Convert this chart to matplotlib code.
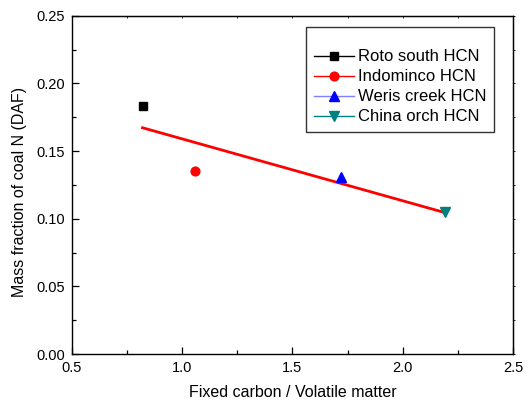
import numpy as np
import matplotlib
matplotlib.use("Agg")
import matplotlib.pyplot as plt
from matplotlib.ticker import MultipleLocator, FormatStrFormatter

plt.rcParams['font.family'] = ['Liberation Sans', 'DejaVu Sans']

# Coal samples: fixed carbon / volatile matter ratio vs. coal-N mass fraction
labels = ["Roto south HCN", "Indominco HCN", "Weris creek HCN", "China orch HCN"]
fc_vm = [0.82, 1.06, 1.72, 2.19]
n_frac = [0.183, 0.135, 0.131, 0.105]

markers = ["s", "o", "^", "v"]
marker_sizes = [5.4, 6.3, 6.5, 6.5]
colors = ["#000000", "#ff0000", "#0000ff", "#008080"]
line_colors = ["#000000", "#ff0000", "#7f7fff", "#008080"]

fig = plt.figure(figsize=(5.32, 4.01), dpi=100)
ax = fig.add_axes([0.1353, 0.1172, 0.8290, 0.8436])

for x, y, lab, m, ms, c, lc in zip(fc_vm, n_frac, labels, markers,
                                   marker_sizes, colors, line_colors):
    ax.plot([x], [y], linestyle='-', color=lc, marker=m, markersize=ms,
            markerfacecolor=c, markeredgecolor=c, label=lab, lw=1)

# Linear fit across all samples
slope, intercept = np.polyfit(fc_vm, n_frac, 1)
xf = np.array([min(fc_vm), max(fc_vm)])
ax.plot(xf, slope * xf + intercept, color='#ff0000', lw=2, zorder=1)

ax.set_xlim(0.5, 2.5)
ax.set_ylim(0.0, 0.25)
ax.xaxis.set_major_locator(MultipleLocator(0.5))
ax.xaxis.set_minor_locator(MultipleLocator(0.25))
ax.yaxis.set_major_locator(MultipleLocator(0.05))
ax.yaxis.set_minor_locator(MultipleLocator(0.025))
ax.xaxis.set_major_formatter(FormatStrFormatter('%.1f'))
ax.yaxis.set_major_formatter(FormatStrFormatter('%.2f'))

ax.tick_params(which='both', direction='in', top=False, right=False,
               labelsize=10.5, width=0.9, pad=5)
ax.tick_params(which='major', length=5)
ax.tick_params(which='minor', length=3)

# small ticks on the opposite spines
sx = ax.secondary_xaxis('top')
sx.xaxis.set_major_locator(MultipleLocator(0.5))
sx.xaxis.set_minor_locator(MultipleLocator(0.25))
sx.tick_params(which='both', direction='in', length=1.5, labeltop=False, width=0.6)
sy = ax.secondary_yaxis('right')
sy.yaxis.set_major_locator(MultipleLocator(0.05))
sy.yaxis.set_minor_locator(MultipleLocator(0.025))
sy.tick_params(which='both', direction='out', length=1.5, labelright=False, width=0.6)

for s in ax.spines.values():
    s.set_linewidth(1.0)

ax.set_xlabel("Fixed carbon / Volatile matter", fontsize=11.5, labelpad=7)
ax.set_ylabel("Mass fraction of coal N (DAF)", fontsize=11.5)
ax.yaxis.set_label_coords(-0.102, 0.48)

leg = ax.legend(loc='upper right', bbox_to_anchor=(0.957, 0.967), fontsize=12,
                frameon=True, fancybox=False, edgecolor='black',
                handlelength=2.4, handletextpad=0.25, labelspacing=0.3,
                borderpad=0.45, borderaxespad=0, title=" ", title_fontsize=8)
leg.get_frame().set_linewidth(1.0)

fig.savefig("out.png", dpi=100)
